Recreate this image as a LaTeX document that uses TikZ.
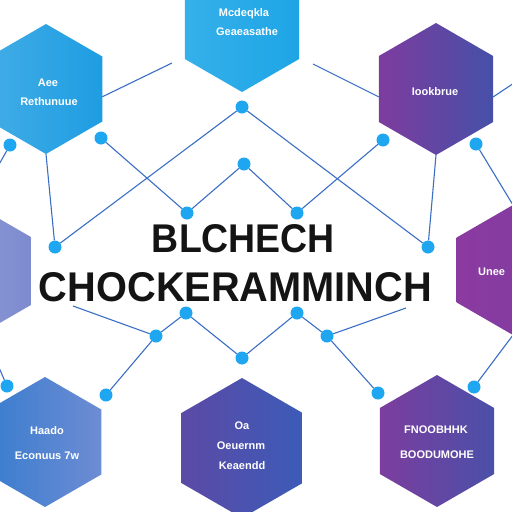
\documentclass[tikz,border=0pt]{standalone}
\usepackage{fontspec}
\setmainfont{Liberation Sans}
\usepackage{graphicx}
\usetikzlibrary{calc}
\definecolor{linec}{HTML}{3B6FC6}
\definecolor{dotc}{HTML}{1EA7F0}
\definecolor{titlec}{HTML}{141414}
\definecolor{tlA}{HTML}{41ACE6}\definecolor{tlB}{HTML}{1E9DE2}
\definecolor{tcA}{HTML}{35B0EA}\definecolor{tcB}{HTML}{1EA5E6}
\definecolor{trA}{HTML}{7D3C9E}\definecolor{trB}{HTML}{4650A8}
\definecolor{lmA}{HTML}{97A1D8}\definecolor{lmB}{HTML}{7D8BCF}
\definecolor{rmA}{HTML}{8B3AA0}\definecolor{rmB}{HTML}{7E3DA0}
\definecolor{blA}{HTML}{3A7DCF}\definecolor{blB}{HTML}{6D8CD3}
\definecolor{bcA}{HTML}{5B4AA6}\definecolor{bcB}{HTML}{3C5BB7}
\definecolor{brA}{HTML}{7C3D9E}\definecolor{brB}{HTML}{4A50A8}
\newcommand{\hexshape}[6]{%
  \path[left color=#5, right color=#6]
    (#2,#3-#4) coordinate (#1-n)
    -- (#2+0.866*#4,#3-0.5*#4) coordinate (#1-ne)
    -- (#2+0.866*#4,#3+0.5*#4) coordinate (#1-se)
    -- (#2,#3+#4) coordinate (#1-s)
    -- (#2-0.866*#4,#3+0.5*#4) coordinate (#1-sw)
    -- (#2-0.866*#4,#3-0.5*#4) coordinate (#1-nw)
    -- cycle;}
\begin{document}
\begin{tikzpicture}[x=1pt,y=-1pt,
  conn/.style={draw=linec, line width=1.1pt},
  dotnode/.style={circle, fill=dotc, minimum size=13pt, inner sep=0pt},
  hextext/.style={text=white, font=\bfseries\fontsize{11}{12}\selectfont, inner sep=0pt},
  titletext/.style={text=titlec, font=\bfseries, inner sep=0pt}]
\useasboundingbox (0,0) rectangle (512,512);
\clip (0,0) rectangle (512,512);
\fill[white] (0,0) rectangle (512,512);

% hexagons
\hexshape{tl}{46}{89}{65}{tlA}{tlB}
\hexshape{tc}{242}{26}{66}{tcA}{tcB}
\hexshape{tr}{436}{89}{66}{trA}{trB}
\hexshape{lm}{-28}{271}{68}{lmA}{lmB}
\hexshape{rm}{513}{270}{65}{rmA}{rmB}
\hexshape{bl}{45}{442}{65}{blA}{blB}
\hexshape{bc}{242}{448}{70}{bcA}{bcB}
\hexshape{br}{437}{441}{66}{brA}{brB}

% dots
\node[dotnode] (d1) at (10,145) {};
\node[dotnode] (d2) at (101,138) {};
\node[dotnode] (d3) at (242,107) {};
\node[dotnode] (d4) at (244,164) {};
\node[dotnode] (d5) at (187,213) {};
\node[dotnode] (d6) at (297,213) {};
\node[dotnode] (d7) at (383,140) {};
\node[dotnode] (d8) at (476,144) {};
\node[dotnode] (d9) at (55,247) {};
\node[dotnode] (d10) at (428,247) {};
\node[dotnode] (d11) at (7,386) {};
\node[dotnode] (d12) at (106,395) {};
\node[dotnode] (d13) at (156,336) {};
\node[dotnode] (d14) at (186,313) {};
\node[dotnode] (d15) at (242,358) {};
\node[dotnode] (d16) at (297,313) {};
\node[dotnode] (d17) at (327,336) {};
\node[dotnode] (d18) at (378,393) {};
\node[dotnode] (d19) at (474,387) {};

% free ends
\coordinate (f1) at (172,63);
\coordinate (f2) at (313,64);
\coordinate (f3) at (514,83);
\coordinate (f4) at (-3,168);
\coordinate (f5) at (-3,363);
\coordinate (f6) at (73,306);
\coordinate (f7) at (406,308);

% connectors
\draw[conn] ($(tl-ne)!0.62!(tl-se)$) -- (f1);
\draw[conn] (f2) -- ($(tr-nw)!0.62!(tr-sw)$);
\draw[conn] ($(tr-ne)!0.62!(tr-se)$) -- (f3);
\draw[conn] (d1) -- (f4);
\draw[conn] (d2) -- (d5);
\draw[conn] (d3) -- (d9);
\draw[conn] (d3) -- (d10);
\draw[conn] (d4) -- (d5);
\draw[conn] (d4) -- (d6);
\draw[conn] (d6) -- (d7);
\draw[conn] (d8) -- (rm-n);
\draw[conn] (tl-s) -- (d9);
\draw[conn] (tr-s) -- (d10);
\draw[conn] (f6) -- (d13);
\draw[conn] (d13) -- (d14);
\draw[conn] (d14) -- (d15);
\draw[conn] (d15) -- (d16);
\draw[conn] (d16) -- (d17);
\draw[conn] (d17) -- (f7);
\draw[conn] (d13) -- (d12);
\draw[conn] (d17) -- (d18);
\draw[conn] (d11) -- (f5);
\draw[conn] (d19) -- (rm-s);

% hexagon texts
\node[hextext] (x1) at (48,83) {Aee};
\node[hextext] (x2) at (49,102) {Rethunuue};
\node[hextext] (x3) at (244,14) {Mcdeqkla};
\node[hextext] (x4) at (247,32) {Geaeasathe};
\node[hextext] (x5) at (435,92) {Iookbrue};
\node[hextext, anchor=west] (x6) at (478,272) {Unee};
\node[hextext] (x7) at (47,431) {Haado};
\node[hextext] (x8) at (47,456) {Econuus 7w};
\node[hextext] (x9) at (242,426) {Oa};
\node[hextext] (x10) at (241,446) {Oeuernm};
\node[hextext] (x11) at (242,466) {Keaendd};
\node[hextext] (x12) at (436,430) {FNOOBHHK};
\node[hextext] (x13) at (437,455) {BOODUMOHE};

% title
\node[titletext] (t1) at (243.5,239) {\resizebox{183pt}{28pt}{BLCHECH}};
\node[titletext] (t2) at (235.5,287.5) {\resizebox{393pt}{29pt}{CHOCKERAMMINCH}};
\end{tikzpicture}
\end{document}
